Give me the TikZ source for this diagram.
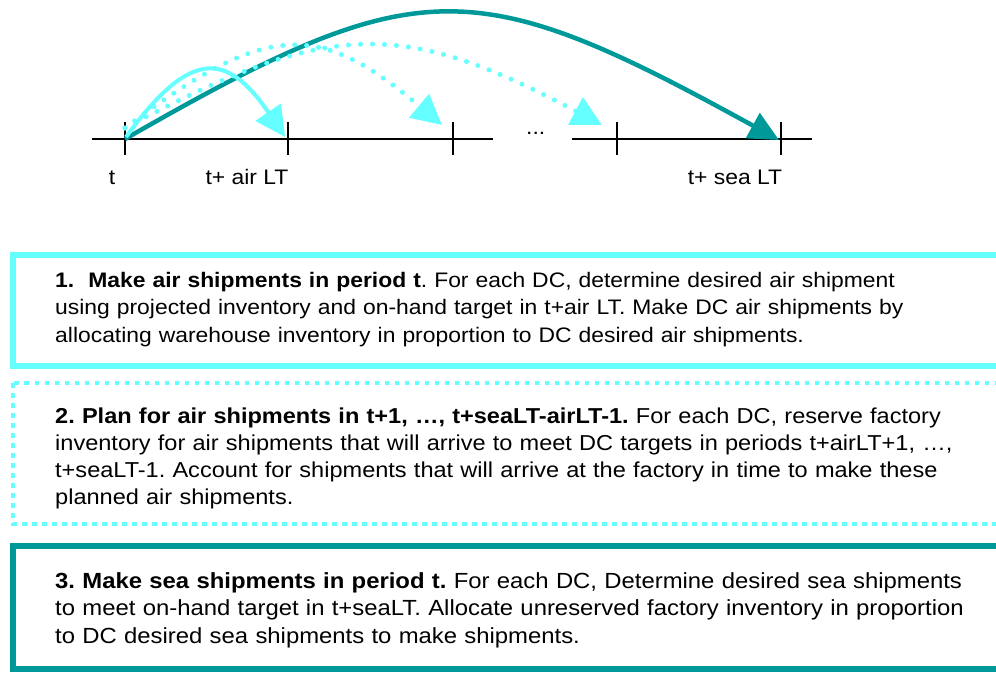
\documentclass[tikz,border=0pt]{standalone}
\usepackage{fontspec}
\setmainfont{Liberation Sans}[FakeStretch=1.09]
\usetikzlibrary{arrows.meta}
\definecolor{aircyan}{HTML}{66FFFF}
\definecolor{seateal}{HTML}{009999}
\frenchspacing
\begin{document}
\begin{tikzpicture}[x=1pt,y=-1pt,
  axis/.style={black,line width=1.5pt},
  tick/.style={black,line width=1.5pt},
  lbl/.style={font=\fontsize{21}{25}\selectfont,inner sep=0pt,anchor=base},
  airsolid/.style={aircyan,line width=4pt,-{Triangle[length=30pt,width=30pt]}},
  airdotted/.style={aircyan,line width=5pt,line cap=round,dash pattern=on 0pt off 12pt,
    -{Triangle[length=30pt,width=30pt,line cap=butt]}},
  seasolid/.style={seateal,line width=4.5pt,-{Triangle[length=30pt,width=28pt]}},
  boxtext/.style={inner sep=0pt,anchor=base west,text width=935pt,align=left},
  solidframe/.style={line width=6pt},
  dotframe/.style={aircyan,line width=4.5pt,dash pattern=on 4.5pt off 5.5pt}
]
\useasboundingbox (0,0) rectangle (996,673);
\clip (0,0) rectangle (996,673);

% time axis
\draw[axis] (92,139) -- (493,139);
\draw[axis] (572,139) -- (812,139);
\foreach \x/\n in {125/t0,288/t1,453/t2,617/t3,781/t4}{
  \draw[tick] (\x,122) -- (\x,155);
  \coordinate (\n) at (\x,139);
}
\node[lbl,anchor=base west] (gap) at (526,134) {...};
\node[lbl] (lt)   at (112,184) {t};
\node[lbl] (lair) at (247,184) {t+ air LT};
\node[lbl] (lsea) at (735,184) {t+ sea LT};

% shipment arcs
\coordinate (s0) at (126,137);
\coordinate (d0) at (125,128);
\coordinate (airend) at (285,137);
\coordinate (plan1) at (442,125);
\coordinate (plan2) at (602,125);
\coordinate (seaend) at (779,140);

\draw[seasolid] (t0) .. controls (418,-29) and (472,-29) .. (seaend);
\draw[airdotted] (d0) .. controls (330,19) and (402,19) .. (plan2);
\draw[airdotted] (d0) .. controls (267,21) and (318,21) .. (plan1);
\draw[airsolid] (s0) .. controls (189,50) and (226,50) .. (airend);

% step boxes
\draw[solidframe,aircyan] (13,255) rectangle (1010,366);
\draw[dotframe] (13,383) rectangle (1010,524);
\draw[solidframe,seateal] (13,546) rectangle (1010,669);

\node[boxtext,font=\fontsize{21}{27.5}\selectfont] (step1) at (55,287) {\textbf{1.\ \ Make air shipments in period t}. For each DC, determine desired air shipment\\
using projected inventory and on-hand target in t+air LT. Make DC air shipments by\\
allocating warehouse inventory in proportion to DC desired air shipments.};

\node[boxtext,font=\fontsize{21.6}{27}\selectfont] (step2) at (55,423) {\textbf{2. Plan for air shipments in t+1, …, t+seaLT-airLT-1.} For each DC, reserve factory\\
inventory for air shipments that will arrive to meet DC targets in periods t+airLT+1, …,\\
t+seaLT-1. Account for shipments that will arrive at the factory in time to make these\\
planned air shipments.};

\node[boxtext,font=\fontsize{21.9}{27.5}\selectfont] (step3) at (55,588) {\textbf{3. Make sea shipments in period t.} For each DC, Determine desired sea shipments\\
to meet on-hand target in t+seaLT. Allocate unreserved factory inventory in proportion\\
to DC desired sea shipments to make shipments.};
\end{tikzpicture}
\end{document}
